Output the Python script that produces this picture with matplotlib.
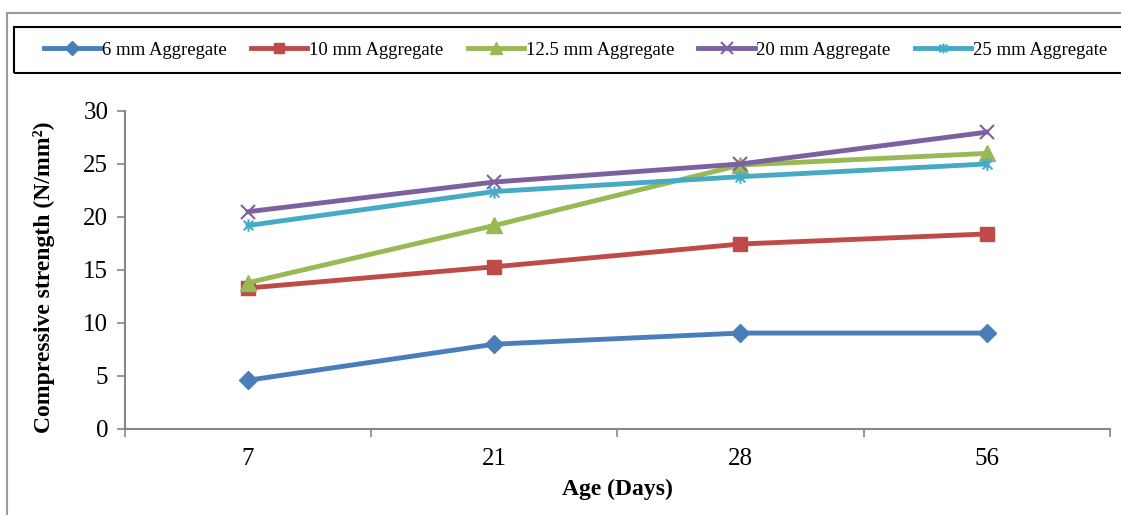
import matplotlib.pyplot as plt
from matplotlib.patches import Rectangle
from matplotlib.path import Path

plt.rcParams['font.family'] = ['Liberation Serif', 'DejaVu Serif']

# Data
ages = ['7', '21', '28', '56']
agg_6 = [4.6, 8.0, 9.05, 9.05]
agg_10 = [13.3, 15.3, 17.45, 18.4]
agg_12_5 = [13.8, 19.2, 24.9, 26.0]
agg_20 = [20.5, 23.3, 25.0, 28.0]
agg_25 = [19.2, 22.4, 23.8, 25.0]

labels = ['6 mm Aggregate', '10 mm Aggregate', '12.5 mm Aggregate',
          '20 mm Aggregate', '25 mm Aggregate']

# excel-like asterisk marker (x with a vertical stroke)
star = Path([(-1, -1), (1, 1), (-1, 1), (1, -1), (0, -1.3), (0, 1.3)],
            [Path.MOVETO, Path.LINETO, Path.MOVETO, Path.LINETO, Path.MOVETO, Path.LINETO])

fig = plt.figure(figsize=(11.21, 5.15), dpi=100)
ax = fig.add_axes([0.1115, 0.167, 0.8785, 0.6175])

x = range(len(ages))
lw = 3.5
ax.plot(x, agg_6, color='#4A7EBB', lw=lw, marker='D', ms=9, label=labels[0])
ax.plot(x, agg_10, color='#BE4B48', lw=lw, marker='s', ms=9.5, label=labels[1])
ax.plot(x, agg_12_5, color='#98B954', lw=lw, marker='^', ms=11, label=labels[2])
ax.plot(x, agg_20, color='#7D60A0', lw=lw, marker='x', ms=10, mew=1.5, label=labels[3])
ax.plot(x, agg_25, color='#46AAC5', lw=lw, marker=star, ms=9, mew=1.5,
        mfc='none', label=labels[4])

ax.set_xlim(-0.5, len(ages) - 0.5)
ax.set_ylim(0, 30)
ax.set_yticks(range(0, 31, 5))
ax.set_xticks(list(x))
ax.set_xticklabels(ages)
ax.set_xticks([i - 0.5 for i in range(len(ages) + 1)], minor=True)
ax.tick_params(axis='x', which='major', length=0, pad=14, labelsize=18)
ax.tick_params(axis='x', which='minor', length=6, width=1.2, color='#868686', direction='out')
ax.tick_params(axis='y', length=6, width=1.2, color='#868686', direction='out', pad=6, labelsize=18)

for s in ['top', 'right']:
    ax.spines[s].set_visible(False)
for s in ['left', 'bottom']:
    ax.spines[s].set_color('#868686')
    ax.spines[s].set_linewidth(1.5)

ax.set_ylabel('Compressive strength (N/mm²)', fontsize=17, fontweight='bold')
ax.yaxis.set_label_coords(-0.071, 0.478)
ax.set_xlabel('Age (Days)', fontsize=17, fontweight='bold', labelpad=6)

# outer chart border and legend box
fig.patches.append(Rectangle((7 / 1121, -0.2), 1.2, 1.2 - 13 / 515, transform=fig.transFigure,
                             fill=False, edgecolor='#9a9a9a', lw=1.5))
fig.patches.append(Rectangle((14 / 1121, 1 - 73 / 515), 1.2, 46 / 515, transform=fig.transFigure,
                             fill=False, edgecolor='black', lw=1.5))

fig.legend(loc='center left', bbox_to_anchor=(36 / 1121, 1 - 50 / 515), ncol=5, frameon=False,
           fontsize=13.5, handlelength=3.0, handletextpad=0.1, columnspacing=1.3,
           borderaxespad=0, markerscale=0.8)

plt.savefig('out.png', dpi=100)
